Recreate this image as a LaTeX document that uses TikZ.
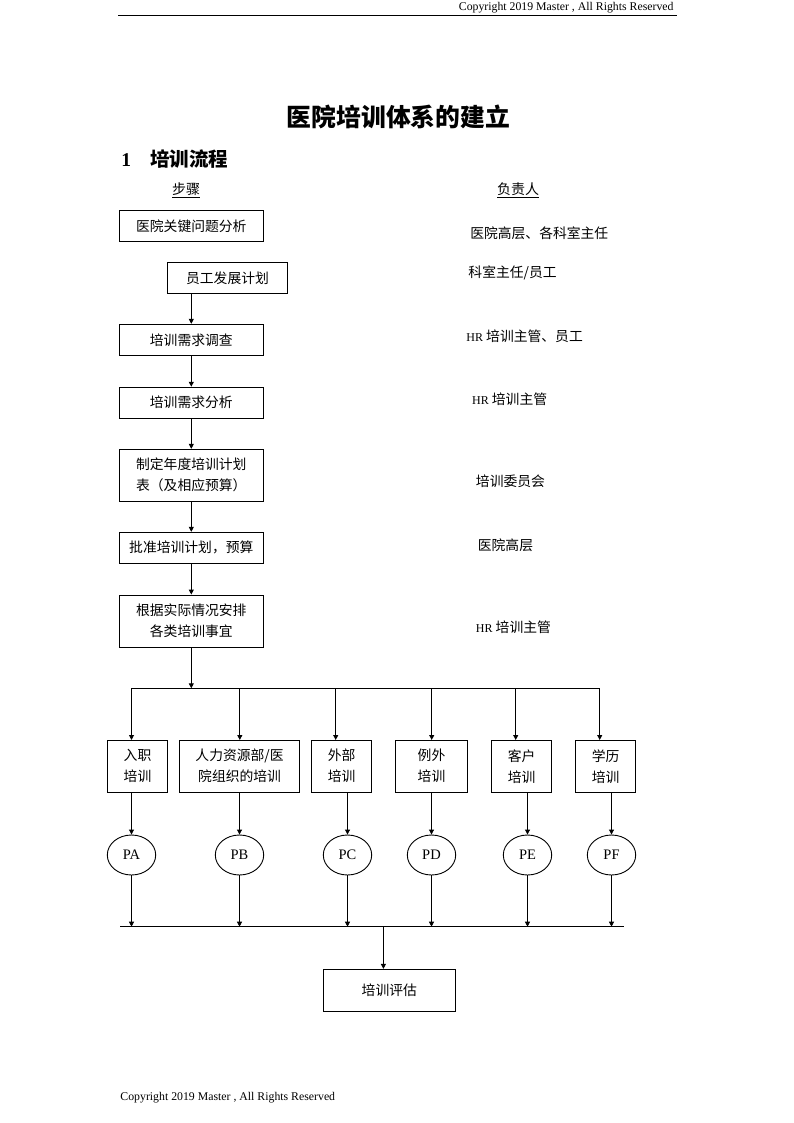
\documentclass[tikz,border=0pt]{standalone}
\usepackage{fontspec}
\setmainfont{Liberation Serif}
\newfontfamily\cjk{Noto Sans CJK SC}
\usetikzlibrary{arrows.meta,shapes.geometric}
\begin{document}
\begin{tikzpicture}[x=1pt,y=-1pt,line width=0.9pt,
  box/.style={draw,inner sep=0pt,align=center,font=\cjk\fontsize{13.8}{21}\selectfont},
  lab/.style={anchor=west,inner sep=0pt,font=\cjk\fontsize{13.8}{16}\selectfont},
  circ/.style={draw,ellipse,inner sep=0pt,minimum width=48.4,minimum height=40,font=\fontsize{14.5}{16}\selectfont},
  arr/.style={-{Triangle[length=5pt,width=5pt]}},
  latin/.style={font=\fontsize{11.8}{14}\selectfont,inner sep=0pt}]
\fill[white] (0,0) rectangle (794,1123);
\useasboundingbox (0,0) rectangle (794,1123);

% header / footer
\node[latin,anchor=east] (hdr) at (674,7.5) {Copyright 2019 Master , All Rights Reserved};
\coordinate (rl) at (118,15.5);
\coordinate (rr) at (677,15.5);
\draw[line width=1pt] (rl) -- (rr);
\node[latin,anchor=west] (ftr) at (120,1098) {Copyright 2019 Master , All Rights Reserved};

% titles
\node[font=\cjk\bfseries\fontsize{24.8}{30}\selectfont] (title) at (398.4,117) {医院培训体系的建立};
\node[anchor=west,inner sep=0pt,font=\bfseries\fontsize{19.5}{24}\selectfont] (sec) at (121,159) {1\hspace{19pt}{\cjk 培训流程}};
\node[font=\cjk\fontsize{14}{16}\selectfont,inner sep=0pt] (h1) at (186,190) {\underline{步骤}};
\node[font=\cjk\fontsize{14}{16}\selectfont,inner sep=0pt] (h2) at (518,190) {\underline{负责人}};

% main flow
\node[box,minimum width=144,minimum height=31.5] (b1) at (191.3,226) {医院关键问题分析};
\node[box,minimum width=119.6,minimum height=31] (b2) at (227.5,277.8) {员工发展计划};
\node[box,minimum width=144,minimum height=31] (b3) at (191.3,339.8) {培训需求调查};
\node[box,minimum width=144,minimum height=31] (b4) at (191.3,402.7) {培训需求分析};
\node[box,minimum width=144,minimum height=52] (b5) at (191.3,475.3) {制定年度培训计划\\表（及相应预算）};
\node[box,minimum width=144,minimum height=31] (b6) at (191.3,547.8) {批准培训计划，预算};
\node[box,minimum width=144,minimum height=52] (b7) at (191.3,621) {根据实际情况安排\\各类培训事宜};

\draw[arr] (b3.north |- b2.south) -- (b3.north);
\draw[arr] (b3) -- (b4);
\draw[arr] (b4) -- (b5);
\draw[arr] (b5) -- (b6);
\draw[arr] (b6) -- (b7);

% responsible
\node[lab] (l1) at (469.8,233.3) {医院高层、各科室主任};
\node[lab] (l2) at (468,273) {科室主任/员工};
\node[lab] (l3) at (466,336.7) {{\rmfamily\fontsize{12}{14}\selectfont HR} 培训主管、员工};
\node[lab] (l4) at (471.7,399) {{\rmfamily\fontsize{12}{14}\selectfont HR} 培训主管};
\node[lab] (l5) at (475.5,481.7) {培训委员会};
\node[lab] (l6) at (477.4,545) {医院高层};
\node[lab] (l7) at (475.5,627) {{\rmfamily\fontsize{12}{14}\selectfont HR} 培训主管};

% distribution bus
\coordinate (bus) at (191.3,688.3);
\coordinate (d1) at (131.5,688.3);
\coordinate (d2) at (239.8,688.3);
\coordinate (d3) at (335.7,688.3);
\coordinate (d4) at (431.7,688.3);
\coordinate (d5) at (515.7,688.3);
\coordinate (d6) at (599.7,688.3);
\draw[arr] (b7) -- (bus);
\draw (d1) -- (d6);

% training types
\node[box,minimum width=60,minimum height=51.5] (r1) at (137.5,766.2) {入职\\培训};
\node[box,minimum width=119.5,minimum height=51.5] (r2) at (239.6,766.2) {人力资源部/医\\院组织的培训};
\node[box,minimum width=60,minimum height=51.5] (r3) at (341.7,766.2) {外部\\培训};
\node[box,minimum width=71.6,minimum height=51.5] (r4) at (431.5,766.2) {例外\\培训};
\node[box,minimum width=60,minimum height=51.5] (r5) at (521.7,766.2) {客户\\培训};
\node[box,minimum width=60,minimum height=51.5] (r6) at (605.6,766.2) {学历\\培训};

\foreach \i in {1,...,6} {\draw[arr] (d\i) -- (d\i |- r\i.north);}

% programmes
\node[circ] (c1) at (131.5,855) {PA};
\node[circ] (c2) at (239.5,855) {PB};
\node[circ] (c3) at (347.5,855) {PC};
\node[circ] (c4) at (431.5,855) {PD};
\node[circ] (c5) at (527.5,855) {PE};
\node[circ] (c6) at (611.5,855) {PF};

\foreach \i in {1,...,6} {\draw[arr] (c\i.north |- r\i.south) -- (c\i.north);}

% collection bus
\coordinate (eL) at (120,926.7);
\coordinate (eR) at (624,926.7);
\coordinate (eM) at (383.4,926.7);
\draw (eL) -- (eR);
\foreach \i in {1,...,6} {\draw[arr] (c\i.south) -- (c\i.south |- eL);}

\node[box,minimum width=132,minimum height=41.7] (ev) at (389.3,990.2) {培训评估};
\draw[arr] (eM) -- (eM |- ev.north);
\end{tikzpicture}
\end{document}
